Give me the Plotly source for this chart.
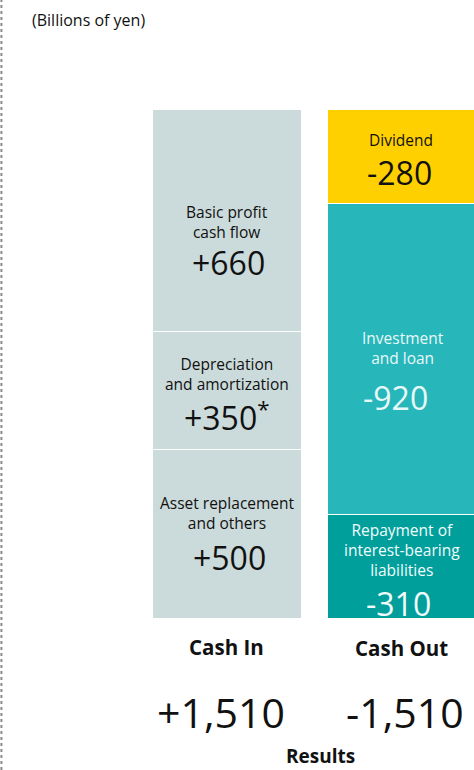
import plotly.graph_objects as go

# ---- data (billions of yen) ----
categories = ["Cash In", "Cash Out"]

in_items = ["Asset replacement<br>and others",
            "Depreciation<br>and amortization",
            "Basic profit<br>cash flow"]
in_values = [500, 350, 660]
in_value_labels = ["+500", "+350<sup>*</sup>", "+660"]

out_items = ["Repayment of<br>interest-bearing<br>liabilities",
             "Investment<br>and loan",
             "Dividend"]
out_values = [-310, -920, -280]
out_value_labels = ["-310", "-920", "-280"]

total_labels = ["+1,510", "-1,510"]

# ---- styling ----
W, H = 474, 770
FONT = "Open Sans"
DARK = "#111111"
in_colors = ["#CBDADA", "#CBDADA", "#CBDADA"]
out_colors = ["#009F9C", "#27B6BA", "#FFD000"]
out_text_colors = ["#F2FBFB", "#E8F8F8", DARK]

# plot geometry in pixels
BAR_TOP, BAR_BOTTOM = 110, 619
CENTERS = [227.5, 402.5]
total = sum(in_values)
s = (BAR_BOTTOM - BAR_TOP) / total          # px per unit (y)
sx = CENTERS[1] - CENTERS[0]                 # px per category step (x)


def ypx(p):
    """pixel row -> data y"""
    return (BAR_BOTTOM - p) / s


def xpx(p):
    """pixel column -> category coordinate"""
    return (p - CENTERS[0]) / sx


fig = go.Figure()

for name, v, c in zip(in_items, in_values, in_colors):
    fig.add_trace(go.Bar(x=[categories[0]], y=[v], marker=dict(color=c, line=dict(color="white", width=1.5)),
                         width=0.85, name=name.replace("<br>", " "), hoverinfo="skip"))
for name, v, c in zip(out_items, out_values, out_colors):
    fig.add_trace(go.Bar(x=[categories[1]], y=[abs(v)], marker=dict(color=c, line=dict(color="white", width=1.5)),
                         width=0.85, name=name.replace("<br>", " "), hoverinfo="skip"))

ann = []


def add(text, x, y, size, color=DARK, bold=False, xanchor="center", yanchor="middle"):
    ann.append(dict(text=f"<b>{text}</b>" if bold else text, x=xpx(x), y=ypx(y),
                    xref="x", yref="y", showarrow=False, xanchor=xanchor, yanchor=yanchor,
                    borderpad=0, font=dict(family=FONT, size=size, color=color)))


# Cash In segment labels
in_name_pos = [(227, 512.5), (227, 373.5), (227, 221.5)]
in_val_pos = [(229, 557), (227, 416), (228, 262)]
for name, lab, (nx, ny), (vx, vy) in zip(in_items, in_value_labels, in_name_pos, in_val_pos):
    add(name, nx, ny, 15.5)
    add(lab, vx, vy, 32)

# Cash Out segment labels
out_name_pos = [(402, 550), (403, 348), (401, 140)]
out_val_pos = [(398, 603), (395, 397), (399, 172)]
for name, lab, tc, (nx, ny), (vx, vy) in zip(out_items, out_value_labels, out_text_colors,
                                              out_name_pos, out_val_pos):
    add(name, nx, ny, 15.5, color=tc)
    add(lab, vx, vy, 32, color=tc)

# category labels, totals and footer
add(categories[0], 226, 647, 20.5, bold=True)
add(categories[1], 401, 648, 20.5, bold=True)
add(total_labels[0], 221, 712, 41)
add(total_labels[1], 405, 712, 41)
add("Results", 320, 756, 19, bold=True)
add("(Billions of yen)", 31, 20, 16, xanchor="left")

fig.update_layout(
    width=W, height=H,
    margin=dict(l=0, r=0, t=0, b=0),
    paper_bgcolor="white", plot_bgcolor="white",
    barmode="stack", bargap=0,
    showlegend=False,
    annotations=ann,
    xaxis=dict(type="category", categoryorder="array", categoryarray=categories,
               range=[xpx(0), xpx(W)], visible=False, fixedrange=True),
    yaxis=dict(range=[ypx(H), ypx(0)], visible=False, fixedrange=True),
    shapes=[dict(type="line", xref="paper", yref="paper", x0=0.003, x1=0.003, y0=0, y1=1,
                 line=dict(color="#8a8a8a", width=2, dash="dot"))],
)

fig.write_html("out.html")
